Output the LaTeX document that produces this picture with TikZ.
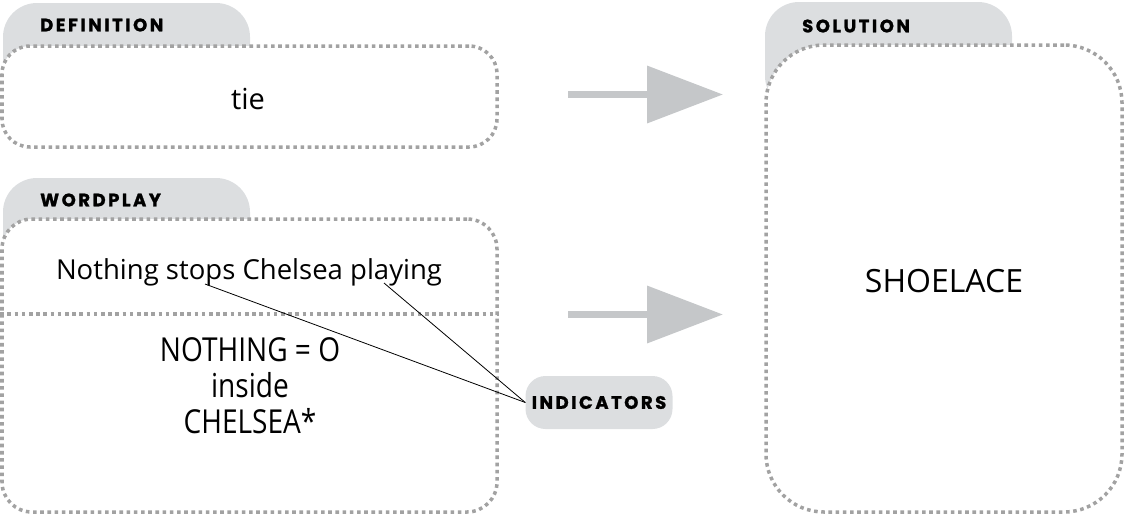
\documentclass[tikz,border=0pt]{standalone}
\usepackage{fontspec}
\setmainfont{Open Sans}
\newfontfamily\labelfont{Poppins}[LetterSpace=14, BoldFeatures={FakeBold=1.3}]
\usetikzlibrary{arrows.meta,calc}
\definecolor{tabgrey}{HTML}{DCDEE0}
\definecolor{dotgrey}{HTML}{A2A2A2}
\definecolor{arrowgrey}{HTML}{C5C7C9}
\tikzset{
  tabshape/.style={fill=tabgrey, rounded corners=34pt},
  dotbox/.style={draw=dotgrey, fill=white, line width=3.5pt, dash pattern=on 3.6pt off 3.6pt, rounded corners=#1, inner sep=0pt},
  dotline/.style={draw=dotgrey, line width=3.5pt, dash pattern=on 3.6pt off 3.6pt},
  labfont/.style={font=\labelfont\bfseries\fontsize{18}{18}\selectfont},
  tablabel/.style={labfont, anchor=west, inner sep=0pt},
  bigarrow/.style={draw=arrowgrey, line width=7pt, -{Triangle[length=76pt,width=56pt]}},
  pointer/.style={draw=black, line width=0.8pt},
  maintext/.style={font=\fontsize{27.5}{32}\selectfont, inner sep=0pt},
}
\begin{document}
\begin{tikzpicture}[x=1pt,y=-1pt]
\useasboundingbox (0,0) rectangle (1124,515);
% tabs
\fill[tabshape] (3,90) -- (3,3) -- (250,3) -- (250,90) -- cycle;
\fill[tabshape] (3,270) -- (3,178) -- (250,178) -- (250,270) -- cycle;
\fill[tabshape] (765,110) -- (765,2) -- (1012,2) -- (1012,110) -- cycle;
% boxes
\node[dotbox=28pt, minimum width=495pt, minimum height=101pt] (defbox) at (249.5,96.5) {};
\node[dotbox=30pt, minimum width=495pt, minimum height=293pt] (wpbox) at (249.5,365.5) {};
\node[dotbox=58pt, minimum width=356pt, minimum height=467pt] (solbox) at (944,278.5) {};
% labels
\node[tablabel] (deflab) at (40,25) {DEFINITION};
\node[tablabel] (wplab) at (40,200) {WORDPLAY};
\node[tablabel] (sollab) at (802,26) {SOLUTION};
% divider
\coordinate (divL) at (wpbox.west |- 0,314);
\coordinate (divR) at (wpbox.east |- 0,314);
\draw[dotline] (divL) -- (divR);
% texts
\node[font=\fontsize{29}{32}\selectfont, inner sep=0pt] (tie) at (248,99) {tie};
\node[maintext] (clue) at (249,272) {Nothing stops Chelsea playing};
\node[font=\fontsize{33}{36}\selectfont, xscale=0.85, transform shape, align=center, inner sep=0pt] (expl) at (250,386) {NOTHING = O\\inside\\CHELSEA*};
\node[font=\fontsize{32}{36}\selectfont, inner sep=0pt] (sol) at (944,281) {SHOELACE};
% indicators
\node[fill=tabgrey, rounded corners=20pt, minimum width=147pt, minimum height=53pt, inner sep=0pt, labfont] (ind) at (599,402.5) {INDICATORS};
\coordinate (stopsPt) at (205,284);
\coordinate (playingPt) at (384,283);
\draw[pointer] (stopsPt) -- (ind.west);
\draw[pointer] (playingPt) -- (ind.west);
% arrows
\coordinate (a1s) at (568,94.5);
\coordinate (a1e) at (723,94.5);
\coordinate (a2s) at (568,314.5);
\coordinate (a2e) at (723,314.5);
\draw[bigarrow] (a1s) -- (a1e);
\draw[bigarrow] (a2s) -- (a2e);
\end{tikzpicture}
\end{document}
